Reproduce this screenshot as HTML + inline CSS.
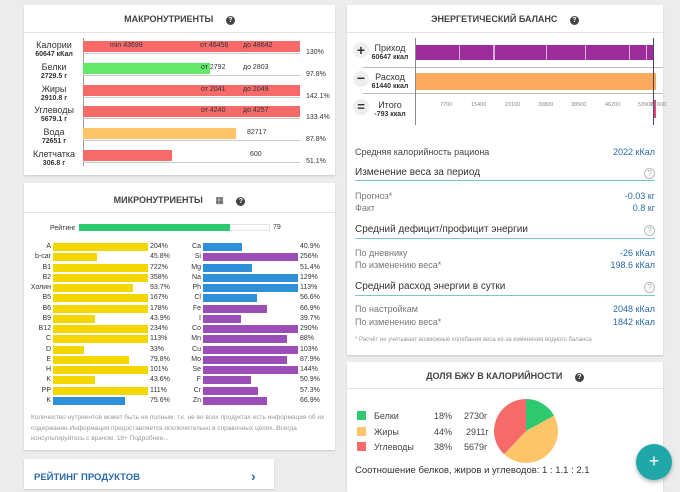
<!DOCTYPE html>
<html><head><meta charset="utf-8"><style>
*{margin:0;padding:0;box-sizing:border-box}
body{width:680px;height:482px;overflow:hidden;background:#ececec;font-family:"Liberation Sans",sans-serif;position:relative;color:#333}
.a{position:absolute}
.card{position:absolute;background:#fff;box-shadow:0 1px 2px rgba(0,0,0,.15)}
.ttl{position:absolute;left:0;right:0;top:0;height:28px;border-bottom:1px solid #e3e3e3;text-align:center;font-size:9px;line-height:28px;color:#444;font-weight:bold}
.q{display:inline-block;width:9px;height:9px;border-radius:50%;background:#444;color:#fff;font-size:7px;line-height:9px;text-align:center;margin-left:10px;vertical-align:0}
.lb{position:absolute;font-size:9px;text-align:center;line-height:10px;color:#333}
.lb b{font-size:7px;display:block}
.t{position:absolute;font-size:7px;color:#333;white-space:nowrap}
.ml{position:absolute;font-size:7px;text-align:right;width:30px;line-height:8px}
.bar{position:absolute;height:8px}
.y{background:#f3d800}.bl{background:#2f8fd8}.p{background:#9b4fb6}
.s{position:absolute;font-size:9px;color:#444;white-space:nowrap}
.v{position:absolute;font-size:9px;color:#2a6aa8;right:8px;white-space:nowrap}
.h{position:absolute;font-size:10px;color:#333}
.ul{position:absolute;left:8px;right:8px;height:1px;background:#7cc7c7}
.qc{position:absolute;right:8px;width:11px;height:11px;border:1px solid #bbb;border-radius:50%;font-size:8px;color:#aaa;text-align:center;line-height:9px}
</style></head><body>

<!-- MACRO -->
<div class="card" style="left:24px;top:5px;width:311px;height:170px">
<div class="ttl">МАКРОНУТРИЕНТЫ <span class="q">?</span></div>
</div>
<div class="a" style="left:83px;top:38px;width:1px;height:128px;background:#999"></div>
<div class="lb" style="left:25px;top:40px;width:58px">Калории<b>60647 кКал</b></div>
<div class="a" style="left:83px;top:41px;width:217px;height:11px;background:#f76a6a"></div>
<div class="t" style="left:110px;top:42px">min 43699</div><div class="t" style="left:200px;top:42px">от 46456</div><div class="t" style="left:243px;top:42px">до 48642</div>
<div class="t" style="left:306px;top:49px">130%</div>

<div class="lb" style="left:25px;top:62px;width:58px">Белки<b>2729.5 г</b></div>
<div class="a" style="left:83px;top:63px;width:127px;height:11px;background:#63e86a"></div>
<div class="t" style="left:201px;top:64px">от 2792</div><div class="t" style="left:243px;top:64px">до 2803</div>
<div class="t" style="left:306px;top:71px">97.8%</div>

<div class="lb" style="left:25px;top:84px;width:58px">Жиры<b>2910.8 г</b></div>
<div class="a" style="left:83px;top:85px;width:217px;height:11px;background:#f76a6a"></div>
<div class="t" style="left:201px;top:86px">от 2041</div><div class="t" style="left:243px;top:86px">до 2049</div>
<div class="t" style="left:306px;top:93px">142.1%</div>

<div class="lb" style="left:25px;top:105px;width:58px">Углеводы<b>5679.1 г</b></div>
<div class="a" style="left:83px;top:106px;width:217px;height:11px;background:#f76a6a"></div>
<div class="t" style="left:201px;top:107px">от 4240</div><div class="t" style="left:243px;top:107px">до 4257</div>
<div class="t" style="left:306px;top:114px">133.4%</div>

<div class="lb" style="left:25px;top:127px;width:58px">Вода<b>72651 г</b></div>
<div class="a" style="left:83px;top:128px;width:153px;height:11px;background:#fdc46a"></div>
<div class="t" style="left:247px;top:129px">82717</div>
<div class="t" style="left:306px;top:136px">87.8%</div>

<div class="lb" style="left:25px;top:149px;width:58px">Клетчатка<b>306.8 г</b></div>
<div class="a" style="left:83px;top:150px;width:89px;height:11px;background:#f76a6a"></div>
<div class="t" style="left:250px;top:151px">600</div>
<div class="t" style="left:306px;top:158px">51.1%</div>
<div class="a" style="left:83px;top:53px;width:217px;height:1px;background:#ccc"></div>
<div class="a" style="left:83px;top:75px;width:217px;height:1px;background:#ccc"></div>
<div class="a" style="left:83px;top:97px;width:217px;height:1px;background:#ccc"></div>
<div class="a" style="left:83px;top:118px;width:217px;height:1px;background:#ccc"></div>
<div class="a" style="left:83px;top:140px;width:217px;height:1px;background:#ccc"></div>
<div class="a" style="left:83px;top:162px;width:217px;height:1px;background:#ccc"></div>

<!-- MICRO -->
<div class="card" style="left:24px;top:183px;width:311px;height:267px">
<div class="ttl" style="height:30px;line-height:34px">МИКРОНУТРИЕНТЫ <span style="margin-left:10px;font-weight:normal">▦</span> <span class="q">?</span></div>
</div>
<div class="t" style="left:50px;top:225px">Рейтинг</div>
<div class="a" style="left:79px;top:224px;width:191px;height:7px;border:1px solid #e3e3e3"></div>
<div class="a" style="left:79px;top:224px;width:151px;height:7px;background:#2ec96e"></div>
<div class="t" style="left:273px;top:224px">79</div>
<div id="micro"></div>
<div class="a" style="left:31px;top:413px;width:300px;font-size:6.5px;line-height:10.5px;color:#999">Количество нутриентов может быть не полным, т.к. не во всех продуктах есть информация об их содержании.Информация предоставляется исключительно в справочных целях. Всегда консультируйтесь с врачом. 18+ Подробнее...</div>

<!-- RATING -->
<div class="card" style="left:24px;top:459px;width:250px;height:30px">
<div class="a" style="left:10px;top:13px;font-size:9.5px;font-weight:bold;color:#2a6aa8">РЕЙТИНГ ПРОДУКТОВ</div>
<div class="a" style="left:227px;top:9px;font-size:14px;font-weight:bold;color:#2a6aa8">›</div>
</div>

<!-- ENERGY -->
<div class="card" style="left:347px;top:5px;width:316px;height:350px">
<div class="ttl">ЭНЕРГЕТИЧЕСКИЙ БАЛАНС <span class="q">?</span></div>
<div class="s" style="left:8px;top:142px">Средняя калорийность рациона</div><div class="v" style="top:142px">2022 кКал</div>
<div class="h" style="left:8px;top:162px">Изменение веса за период</div><div class="qc" style="top:163px">?</div><div class="ul" style="top:175px"></div>
<div class="s" style="left:8px;top:186px;color:#777">Прогноз*</div><div class="v" style="top:186px">-0.03 кг</div>
<div class="s" style="left:8px;top:198px;color:#777">Факт</div><div class="v" style="top:198px">0.8 кг</div>
<div class="h" style="left:8px;top:219px">Средний дефицит/профицит энергии</div><div class="qc" style="top:220px">?</div><div class="ul" style="top:233px"></div>
<div class="s" style="left:8px;top:243px;color:#777">По дневнику</div><div class="v" style="top:243px">-26 кКал</div>
<div class="s" style="left:8px;top:255px;color:#777">По изменению веса*</div><div class="v" style="top:255px">198.6 кКал</div>
<div class="h" style="left:8px;top:276px">Средний расход энергии в сутки</div><div class="qc" style="top:277px">?</div><div class="ul" style="top:290px"></div>
<div class="s" style="left:8px;top:299px;color:#777">По настройкам</div><div class="v" style="top:299px">2048 кКал</div>
<div class="s" style="left:8px;top:312px;color:#777">По изменению веса*</div><div class="v" style="top:312px">1842 кКал</div>
<div class="a" style="left:8px;top:332px;font-size:6px;color:#999;white-space:nowrap">* Расчёт не учитывает возможные колебания веса из-за изменения водного баланса</div>
</div>
<div class="a" style="left:363px;top:67px;width:300px;height:1px;background:#bbb"></div>
<div class="a" style="left:363px;top:93px;width:300px;height:1px;background:#bbb"></div>
<div class="a" style="left:415px;top:38px;width:1px;height:87px;background:#888"></div>
<div class="a" style="left:416px;top:45px;width:238px;height:15px;background:#9b2c9a"></div>
<div class="a" style="left:459px;top:45px;width:1px;height:15px;background:#d9b0d9"></div>
<div class="a" style="left:493px;top:45px;width:2px;height:15px;background:#d9b0d9"></div>
<div class="a" style="left:546px;top:45px;width:1px;height:15px;background:#d9b0d9"></div>
<div class="a" style="left:585px;top:45px;width:1px;height:15px;background:#d9b0d9"></div>
<div class="a" style="left:629px;top:45px;width:1px;height:15px;background:#d9b0d9"></div>
<div class="a" style="left:646px;top:45px;width:1px;height:15px;background:#d9b0d9"></div>
<div class="a" style="left:416px;top:73px;width:240px;height:17px;background:#fdaa5e"></div>
<div class="a" style="left:653px;top:38px;width:1px;height:87px;background:#446"></div>
<div class="a" style="left:654px;top:100px;width:2px;height:18px;background:#e0457b"></div>
<div class="a" style="left:340px;top:102px;width:330px;font-size:5.5px;color:#888">
<span class="a" style="left:100px">7700</span><span class="a" style="left:131px">15400</span><span class="a" style="left:165px">23100</span><span class="a" style="left:198px">30800</span><span class="a" style="left:231px">38500</span><span class="a" style="left:265px">46200</span><span class="a" style="left:298px">53900</span><span class="a" style="left:311px">61600</span></div>
<div class="a" style="left:353px;top:42px;width:16px;height:16px;border-radius:50%;background:#eee;font-size:14px;font-weight:bold;text-align:center;line-height:16px">+</div>
<div class="a" style="left:353px;top:71px;width:16px;height:16px;border-radius:50%;background:#eee;font-size:14px;font-weight:bold;text-align:center;line-height:15px">−</div>
<div class="a" style="left:353px;top:99px;width:16px;height:16px;border-radius:50%;background:#eee;font-size:13px;font-weight:bold;text-align:center;line-height:16px">=</div>
<div class="lb" style="left:368px;top:43px;width:44px">Приход<b>60647 ккал</b></div>
<div class="lb" style="left:368px;top:72px;width:44px">Расход<b>61440 ккал</b></div>
<div class="lb" style="left:368px;top:100px;width:44px">Итого<b>-793 ккал</b></div>

<!-- BJU -->
<div class="card" style="left:347px;top:362px;width:316px;height:130px">
<div class="ttl" style="height:27px;line-height:28px">ДОЛЯ БЖУ В КАЛОРИЙНОСТИ <span class="q">?</span></div>
<div class="a" style="left:10px;top:49px;width:9px;height:9px;background:#2ec96e"></div>
<div class="a" style="left:10px;top:65px;width:9px;height:9px;background:#fdc46a"></div>
<div class="a" style="left:10px;top:80px;width:9px;height:9px;background:#f76a6a"></div>
<div class="s" style="left:27px;top:49px">Белки</div><div class="s" style="left:87px;top:49px">18%</div><div class="s" style="left:117px;top:49px">2730г</div>
<div class="s" style="left:27px;top:65px">Жиры</div><div class="s" style="left:87px;top:65px">44%</div><div class="s" style="left:119px;top:65px">2911г</div>
<div class="s" style="left:27px;top:80px">Углеводы</div><div class="s" style="left:87px;top:80px">38%</div><div class="s" style="left:117px;top:80px">5679г</div>
<div class="s" style="left:8px;top:103px;font-size:9.5px;color:#333">Соотношение белков, жиров и углеводов: 1 : 1.1 : 2.1</div>
<svg class="a" style="left:146px;top:36px" width="66" height="66" viewBox="-33 -33 66 66">
<path d="M0 0 L0 -32 A32 32 0 0 1 28.06 -15.38 Z" fill="#2ec96e"/>
<path d="M0 0 L28.06 -15.38 A32 32 0 0 1 -21.9 23.3 Z" fill="#fdc46a"/>
<path d="M0 0 L-21.9 23.3 A32 32 0 0 1 0 -32 Z" fill="#f76a6a"/>
</svg>
</div>
<div class="a" style="left:636px;top:444px;width:36px;height:36px;border-radius:50%;background:#20a7a7;color:#fff;font-size:18px;text-align:center;line-height:35px;box-shadow:0 2px 4px rgba(0,0,0,.3)">+</div>

<script>
var L=[["A",95,"204%","y"],["b-car",44,"45.8%","y"],["B1",95,"722%","y"],["B2",95,"358%","y"],["Холин",80,"93.7%","y"],["B5",95,"167%","y"],["B6",95,"178%","y"],["B9",42,"43.9%","y"],["B12",95,"234%","y"],["C",95,"113%","y"],["D",31,"33%","y"],["E",76,"79.8%","y"],["H",95,"101%","y"],["K",42,"43.6%","y"],["PP",95,"111%","y"],["K",72,"75.6%","bl"]];
var R=[["Ca",39,"40.9%","bl"],["Si",95,"256%","p"],["Mg",49,"51.4%","bl"],["Na",95,"129%","bl"],["Ph",95,"113%","bl"],["Cl",54,"56.6%","bl"],["Fe",64,"66.9%","p"],["I",38,"39.7%","p"],["Co",95,"290%","p"],["Mn",84,"88%","p"],["Cu",95,"103%","p"],["Mo",84,"87.9%","p"],["Se",95,"144%","p"],["F",48,"50.9%","p"],["Cr",55,"57.3%","p"],["Zn",64,"66.9%","p"]];
var h="";
for(var i=0;i<16;i++){var y=243+i*10.25;
var a=L[i];h+='<div class="ml" style="left:21px;top:'+y+'px">'+a[0]+'</div><div class="bar '+a[3]+'" style="left:53px;top:'+y+'px;width:'+a[1]+'px"></div><div class="t" style="left:150px;top:'+y+'px">'+a[2]+'</div>';
var b=R[i];h+='<div class="ml" style="left:171px;top:'+y+'px">'+b[0]+'</div><div class="bar '+b[3]+'" style="left:203px;top:'+y+'px;width:'+b[1]+'px"></div><div class="t" style="left:300px;top:'+y+'px">'+b[2]+'</div>';}
document.getElementById("micro").innerHTML=h;
</script>
</body></html>
